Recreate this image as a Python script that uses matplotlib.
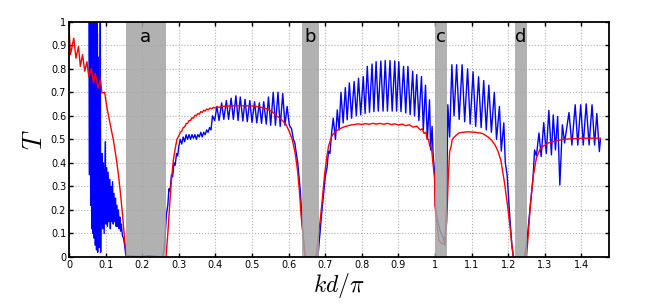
import matplotlib
matplotlib.use('Agg')
import matplotlib.pyplot as plt

# transmission T vs kd/pi
# blue curve, left part (dense oscillations, goes above 1 at start)
blue_left = [(0.0, 1.6), (0.054, 1.2), (0.056, 0.35), (0.0568, 1.05), (0.0576, 0.40), (0.0584, 1.05),
             (0.0592, 0.22), (0.060, 1.05), (0.0608, 0.30), (0.0616, 1.05), (0.0624, 0.12), (0.0632, 1.05),
             (0.064, 0.25), (0.0648, 1.05), (0.0656, 0.10), (0.0664, 1.05), (0.0672, 0.18), (0.068, 1.05),
             (0.0688, 0.08), (0.0696, 1.05), (0.0704, 0.15), (0.0712, 1.05), (0.072, 0.05), (0.0728, 1.05),
             (0.0736, 0.12), (0.0744, 1.05), (0.0752, 0.03), (0.076, 1.05), (0.0768, 0.10), (0.0776, 0.95),
             (0.0784, 0.02), (0.0792, 0.85), (0.080, 0.08), (0.0815, 0.70), (0.083, 0.04), (0.0845, 0.55),
             (0.0855, 1.05), (0.0865, 0.02), (0.088, 0.30), (0.090, 0.44), (0.092, 0.12), (0.094, 0.40),
             (0.096, 0.10), (0.099, 0.49), (0.101, 0.14), (0.103, 0.38), (0.105, 0.13), (0.107, 0.36),
             (0.109, 0.15), (0.111, 0.33), (0.113, 0.12), (0.115, 0.30), (0.117, 0.15), (0.119, 0.32),
             (0.121, 0.14), (0.123, 0.27), (0.125, 0.15), (0.127, 0.25), (0.129, 0.13), (0.131, 0.22),
             (0.133, 0.13), (0.135, 0.20), (0.137, 0.12), (0.139, 0.17), (0.141, 0.11), (0.143, 0.14),
             (0.146, 0.09), (0.149, 0.08), (0.152, 0.05), (0.155, 0.01), (0.158, 0.0)]

blue_ab = [(0.16, 0.005), (0.19, 0.002), (0.22, 0.006), (0.24, 0.003), (0.255, 0.0),
           (0.260, 0.03), (0.263, 0.10), (0.266, 0.18), (0.270, 0.22), (0.273, 0.29), (0.276, 0.28),
           (0.280, 0.35), (0.283, 0.34), (0.287, 0.40), (0.290, 0.39), (0.294, 0.44), (0.297, 0.43),
           (0.300, 0.47), (0.304, 0.50), (0.308, 0.48), (0.312, 0.51), (0.316, 0.49), (0.320, 0.52),
           (0.324, 0.50), (0.328, 0.52), (0.332, 0.50), (0.336, 0.52), (0.340, 0.505), (0.344, 0.52),
           (0.348, 0.50), (0.352, 0.52), (0.356, 0.51), (0.360, 0.53), (0.364, 0.51), (0.368, 0.53),
           (0.372, 0.52), (0.376, 0.54), (0.380, 0.53), (0.384, 0.55), (0.388, 0.54), (0.392, 0.60),
           (0.398, 0.58), (0.404, 0.64), (0.410, 0.58), (0.417, 0.655), (0.423, 0.585), (0.430, 0.665),
           (0.436, 0.585), (0.443, 0.675), (0.449, 0.585), (0.456, 0.685), (0.462, 0.58), (0.468, 0.68),
           (0.475, 0.578), (0.481, 0.67), (0.487, 0.575), (0.494, 0.665), (0.500, 0.572), (0.507, 0.66),
           (0.513, 0.57), (0.520, 0.655), (0.526, 0.568), (0.532, 0.66), (0.539, 0.565), (0.545, 0.68),
           (0.551, 0.56), (0.558, 0.70), (0.564, 0.56), (0.571, 0.70), (0.577, 0.555), (0.584, 0.695),
           (0.590, 0.56), (0.596, 0.64), (0.602, 0.56), (0.608, 0.545), (0.613, 0.50), (0.617, 0.485),
           (0.621, 0.44), (0.625, 0.40), (0.632, 0.28), (0.639, 0.10), (0.645, 0.0)]

blue_bc = [(0.680, 0.0), (0.690, 0.18), (0.700, 0.34), (0.705, 0.38), (0.709, 0.45), (0.713, 0.44),
           (0.717, 0.52), (0.722, 0.59), (0.728, 0.50), (0.733, 0.625), (0.738, 0.54), (0.743, 0.70),
           (0.749, 0.57), (0.755, 0.72), (0.760, 0.583), (0.766, 0.74), (0.772, 0.59), (0.779, 0.746),
           (0.785, 0.60), (0.791, 0.76), (0.797, 0.604), (0.804, 0.767), (0.809, 0.61), (0.815, 0.81),
           (0.821, 0.615), (0.828, 0.82), (0.833, 0.618), (0.839, 0.83), (0.845, 0.62), (0.852, 0.833),
           (0.858, 0.62), (0.864, 0.835), (0.870, 0.62), (0.877, 0.835), (0.883, 0.62), (0.890, 0.833),
           (0.895, 0.62), (0.901, 0.83), (0.907, 0.618), (0.914, 0.81), (0.920, 0.612), (0.926, 0.81),
           (0.932, 0.605), (0.939, 0.79), (0.944, 0.60), (0.950, 0.775), (0.956, 0.58), (0.963, 0.767),
           (0.968, 0.54), (0.974, 0.73), (0.979, 0.50), (0.985, 0.668), (0.988, 0.455), (0.992, 0.555),
           (0.995, 0.43), (0.999, 0.357), (1.001, 0.22), (1.005, 0.17), (1.014, 0.11), (1.023, 0.08),
           (1.027, 0.05), (1.032, 0.23), (1.035, 0.647), (1.040, 0.51)]

blue_cd = [(1.046, 0.817), (1.052, 0.60), (1.059, 0.817), (1.066, 0.585), (1.074, 0.817), (1.081, 0.575),
           (1.089, 0.80), (1.096, 0.565), (1.104, 0.787), (1.111, 0.555), (1.119, 0.766), (1.126, 0.55),
           (1.133, 0.75), (1.140, 0.54), (1.147, 0.73), (1.154, 0.53), (1.162, 0.70), (1.168, 0.50),
           (1.176, 0.64), (1.181, 0.45), (1.188, 0.57), (1.192, 0.40), (1.197, 0.35), (1.203, 0.20),
           (1.210, 0.05), (1.214, 0.0)]

blue_right = [(1.245, 0.0), (1.252, 0.08), (1.260, 0.214), (1.268, 0.34), (1.272, 0.455), (1.277, 0.43),
              (1.284, 0.527), (1.290, 0.427), (1.297, 0.571), (1.304, 0.44), (1.311, 0.623), (1.318, 0.434),
              (1.323, 0.604), (1.329, 0.455), (1.335, 0.597), (1.341, 0.306), (1.348, 0.562), (1.354, 0.485),
              (1.366, 0.614), (1.374, 0.476), (1.383, 0.647), (1.390, 0.476), (1.398, 0.647), (1.405, 0.476),
              (1.413, 0.651), (1.421, 0.476), (1.429, 0.647), (1.436, 0.476), (1.442, 0.61), (1.449, 0.448),
              (1.452, 0.50)]

red_pts = [(0.0, 0.98), (0.004, 0.86), (0.013, 0.93), (0.019, 0.845), (0.026, 0.895), (0.031, 0.81),
           (0.037, 0.86), (0.043, 0.79), (0.049, 0.83), (0.054, 0.767), (0.061, 0.80), (0.067, 0.74),
           (0.072, 0.78), (0.079, 0.718), (0.086, 0.753), (0.090, 0.697), (0.0975, 0.70), (0.103, 0.64),
           (0.108, 0.60), (0.113, 0.56), (0.117, 0.53), (0.121, 0.50), (0.125, 0.46), (0.130, 0.41),
           (0.135, 0.35), (0.140, 0.28), (0.145, 0.20), (0.150, 0.11), (0.154, 0.04), (0.157, 0.0),
           (0.265, 0.0), (0.270, 0.10), (0.275, 0.22), (0.280, 0.33), (0.285, 0.41), (0.290, 0.46),
           (0.295, 0.50), (0.300, 0.515), (0.304, 0.53), (0.308, 0.535), (0.312, 0.55), (0.316, 0.553),
           (0.320, 0.567), (0.324, 0.568), (0.328, 0.58), (0.332, 0.58), (0.336, 0.592), (0.340, 0.59),
           (0.344, 0.602), (0.348, 0.60), (0.352, 0.61), (0.356, 0.607), (0.360, 0.618), (0.364, 0.614),
           (0.368, 0.624), (0.372, 0.62), (0.376, 0.629), (0.380, 0.625), (0.385, 0.633), (0.390, 0.63),
           (0.395, 0.636), (0.400, 0.633), (0.405, 0.638), (0.410, 0.636), (0.420, 0.64), (0.440, 0.642),
           (0.470, 0.643), (0.500, 0.642), (0.520, 0.638), (0.540, 0.63), (0.555, 0.618), (0.567, 0.60),
           (0.580, 0.585), (0.592, 0.565), (0.600, 0.54), (0.610, 0.50), (0.618, 0.44), (0.625, 0.36),
           (0.630, 0.27), (0.634, 0.18), (0.640, 0.08), (0.645, 0.0), (0.675, 0.0), (0.680, 0.07),
           (0.688, 0.18), (0.694, 0.28), (0.699, 0.36), (0.704, 0.42), (0.709, 0.47), (0.715, 0.50),
           (0.720, 0.52), (0.730, 0.535), (0.740, 0.545), (0.750, 0.552), (0.760, 0.557), (0.770, 0.561),
           (0.780, 0.563), (0.790, 0.566), (0.800, 0.563), (0.810, 0.567), (0.820, 0.564), (0.830, 0.568),
           (0.840, 0.565), (0.850, 0.568), (0.860, 0.564), (0.870, 0.568), (0.880, 0.563), (0.890, 0.566),
           (0.900, 0.561), (0.910, 0.565), (0.920, 0.558), (0.930, 0.562), (0.940, 0.552), (0.950, 0.556),
           (0.960, 0.54), (0.965, 0.545), (0.970, 0.525), (0.975, 0.53), (0.978, 0.505), (0.982, 0.50),
           (0.986, 0.47), (0.990, 0.47), (0.993, 0.42), (0.997, 0.36), (0.999, 0.33), (1.000, 0.22),
           (1.004, 0.15), (1.011, 0.07), (1.020, 0.055), (1.026, 0.06), (1.032, 0.15), (1.036, 0.33),
           (1.040, 0.45), (1.044, 0.47), (1.047, 0.50), (1.056, 0.515), (1.065, 0.527), (1.075, 0.53),
           (1.090, 0.532), (1.110, 0.53), (1.130, 0.525), (1.145, 0.51), (1.155, 0.495), (1.164, 0.476),
           (1.172, 0.45), (1.180, 0.41), (1.190, 0.314), (1.198, 0.22), (1.205, 0.128), (1.210, 0.05),
           (1.214, 0.0), (1.250, 0.0), (1.255, 0.10), (1.260, 0.21), (1.268, 0.34), (1.277, 0.42),
           (1.286, 0.455), (1.295, 0.47), (1.310, 0.485), (1.322, 0.49), (1.350, 0.50), (1.400, 0.505),
           (1.452, 0.505)]

# gap bands and their labels
bands = [(0.156, 0.264), (0.637, 0.683), (1.0, 1.032), (1.219, 1.25)]
band_labels = ['a', 'b', 'c', 'd']

blue = blue_left + blue_ab + blue_bc + blue_cd + blue_right
bx = [p[0] for p in blue]
by = [p[1] for p in blue]
rx = [p[0] for p in red_pts]
ry = [p[1] for p in red_pts]

plt.rcParams['mathtext.fontset'] = 'cm'
fig = plt.figure(figsize=(6.54, 3.04), dpi=100)
ax = fig.add_axes([0.1055, 0.1546, 0.8255, 0.774])

ax.plot(bx, by, color='#0000ff', linewidth=1.0, zorder=3)
ax.plot(rx, ry, color='#ff0000', linewidth=1.0, zorder=4)

for (x0, x1), lab in zip(bands, band_labels):
    ax.axvspan(x0, x1, color='#a4a4a4', alpha=0.85, lw=0, zorder=5)
    ax.text((x0 + x1) / 2, 0.935, lab, ha='center', va='center', fontsize=13, zorder=6)

ax.set_xlim(0, 1.475)
ax.set_ylim(0, 1)
ax.set_xticks([i / 10 for i in range(15)])
ax.set_xticklabels(['0', '0.1', '0.2', '0.3', '0.4', '0.5', '0.6', '0.7', '0.8', '0.9',
                    '1', '1.1', '1.2', '1.3', '1.4'])
ax.set_yticks([i / 10 for i in range(11)])
ax.set_yticklabels(['0', '0.1', '0.2', '0.3', '0.4', '0.5', '0.6', '0.7', '0.8', '0.9', '1'])
ax.tick_params(direction='in', top=True, right=True, labelsize=7, length=3, width=1, pad=2)
ax.grid(True, linestyle=':', color='#b0b0b0', linewidth=0.8)
for s in ax.spines.values():
    s.set_linewidth(1.3)
    s.set_zorder(7)

ax.set_xlabel(r'$kd/\pi$', fontsize=17, labelpad=1)
ax.set_ylabel(r'$T$', fontsize=19, labelpad=2)

fig.savefig('out.png', dpi=100)
